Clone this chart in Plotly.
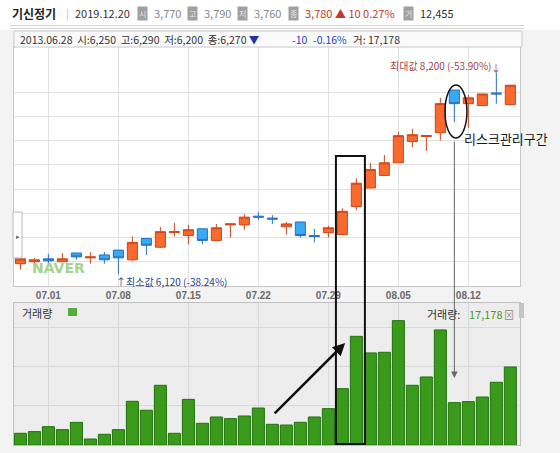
import plotly.graph_objects as go

W, H = 560, 453

# ---------------- data ----------------
dates = ["06.27", "06.28", "07.01", "07.02", "07.03", "07.04", "07.05",
         "07.08", "07.09", "07.10", "07.11", "07.12",
         "07.15", "07.16", "07.17", "07.18", "07.19",
         "07.22", "07.23", "07.24", "07.25", "07.26",
         "07.29", "07.30", "07.31", "08.01", "08.02",
         "08.05", "08.06", "08.07", "08.08", "08.09",
         "08.12", "08.13", "08.14", "08.16"]
opens = [6230, 6250, 6280, 6250, 6340, 6290, 6320,
         6370, 6270, 6490, 6400, 6550,
         6520, 6590, 6470, 6630, 6630,
         6720, 6700, 6610, 6660, 6520,
         6550, 6530, 6820, 7010, 7140,
         7270, 7490, 7540, 7580, 8020,
         7880, 7860, 7990, 7870]
highs = [6310, 6290, 6330, 6340, 6340, 6350, 6350,
         6370, 6510, 6490, 6610, 6650,
         6630, 6590, 6640, 6640, 6740,
         6760, 6730, 6660, 6660, 6590,
         6620, 6800, 7110, 7270, 7350,
         7590, 7620, 7550, 7940, 8020,
         7970, 7980, 8200, 8070]
lows = [6170, 6200, 6220, 6250, 6270, 6230, 6230,
        6120, 6260, 6320, 6390, 6510,
        6430, 6430, 6470, 6500, 6580,
        6680, 6640, 6530, 6500, 6450,
        6500, 6530, 6780, 7010, 7140,
        7270, 7430, 7390, 7500, 7690,
        7630, 7860, 7880, 7870]
closes = [6280, 6270, 6260, 6280, 6300, 6300, 6270,
          6290, 6450, 6420, 6560, 6560,
          6580, 6470, 6600, 6640, 6710,
          6710, 6690, 6640, 6520, 6510,
          6600, 6770, 7060, 7200, 7270,
          7550, 7560, 7550, 7880, 7880,
          7940, 7980, 7980, 8070]
volumes = [15000, 17178, 23500, 19700, 29000, 7700, 13700,
           19700, 56000, 44500, 76500, 15000,
           58500, 27800, 35900, 33800, 37200,
           47400, 26500, 25600, 29100, 35900,
           46600, 72200, 139300, 118000, 118800,
           159400, 76500, 87200, 147500, 54300,
           55600, 61500, 80400, 100000]
tick_dates = ["07.01", "07.08", "07.15", "07.22", "07.29", "08.05", "08.12"]
price_grid = [6250, 6500, 6750, 7000, 7250, 7500, 7750, 8000]
volume_grid = [50000, 100000, 150000]

idx = list(range(len(dates)))
tick_idx = [dates.index(d) for d in tick_dates]
KR = "Noto Sans CJK KR"


def px(x):
    return x / W


def py(y):
    return 1 - y / H


fig = go.Figure()
fig.add_trace(go.Candlestick(
    x=idx, open=opens, high=highs, low=lows, close=closes,
    xaxis="x", yaxis="y",
    increasing=dict(fillcolor="#FA6A2E", line=dict(color="#C9471C", width=1)),
    decreasing=dict(fillcolor="#39A9F4", line=dict(color="#2A6FC4", width=1)),
    whiskerwidth=0, showlegend=False, hoverinfo="skip"))
fig.add_trace(go.Bar(
    x=idx, y=volumes, xaxis="x2", yaxis="y2", width=0.86,
    marker=dict(color="#3A9A1C", line=dict(color="#23700E", width=1)),
    showlegend=False, hoverinfo="skip"))

xdom = [px(14), px(520)]
xr = [-0.457, 35.69]
grid = "#e0e0e0"
fig.update_layout(
    width=W, height=H, margin=dict(l=0, r=0, t=0, b=0),
    boxgap=0.28, boxgroupgap=0,
    paper_bgcolor="#f3f3f3", plot_bgcolor="#ffffff",
    font=dict(family=KR, size=11, color="#333"),
    xaxis=dict(domain=xdom, range=xr, anchor="y", rangeslider=dict(visible=False),
               tickvals=tick_idx, ticktext=["<b>" + t + "</b>" for t in tick_dates], ticks="",
               tickfont=dict(family="Liberation Sans", size=10, color="#6a6a6a"),
               showgrid=True, gridcolor=grid, gridwidth=1,
               showline=True, linecolor="#c8c8c8", mirror=True, zeroline=False),
    yaxis=dict(domain=[py(286), py(47)], range=[6000, 8464], showticklabels=False,
               tickvals=price_grid, showgrid=True, gridcolor=grid, ticks="",
               zeroline=False, showline=True, linecolor="#c8c8c8", mirror=True),
    xaxis2=dict(domain=xdom, range=xr, anchor="y2", matches="x",
                tickvals=tick_idx, showticklabels=False, ticks="",
                showgrid=True, gridcolor="#d8d8d8", showline=True,
                linecolor="#c0c0c0", mirror=True, zeroline=False),
    yaxis2=dict(domain=[py(445), py(303)], range=[0, 182000], showticklabels=False,
                tickvals=volume_grid, showgrid=True, gridcolor="#d8d8d8", ticks="",
                zeroline=False, showline=True, linecolor="#c0c0c0", mirror=True),
)

shapes = []
# panel backgrounds
shapes.append(dict(type="rect", xref="paper", yref="paper", x0=px(14), x1=px(520),
                   y0=py(445), y1=py(303), fillcolor="#ededed", line=dict(width=0), layer="below"))
shapes.append(dict(type="rect", xref="paper", yref="paper", x0=0, x1=1,
                   y0=py(30), y1=1, fillcolor="#ffffff", line=dict(width=0), layer="below"))
# header lines
for yy in (25.5, 28.5):
    shapes.append(dict(type="line", xref="paper", yref="paper", x0=px(10), x1=px(524),
                       y0=py(yy), y1=py(yy), line=dict(color="#d4d4d4", width=1)))
# info box
shapes.append(dict(type="rect", xref="paper", yref="paper", x0=px(14), x1=px(522),
                   y0=py(47), y1=py(31), fillcolor="#fafafa", line=dict(color="#c8c8c8", width=1)))
# left collapse tab
shapes.append(dict(type="rect", xref="paper", yref="paper", x0=px(13), x1=px(22),
                   y0=py(258), y1=py(212), fillcolor="#ffffff", line=dict(color="#b8b8b8", width=1)))
# scrollbar stub
shapes.append(dict(type="rect", xref="paper", yref="paper", x0=px(519), x1=px(524),
                   y0=py(318), y1=py(303), fillcolor="#c4c4c4", line=dict(width=0)))
# annotation box around the breakout candles
shapes.append(dict(type="rect", xref="x", yref="paper", x0=22.54, x1=24.61,
                   y0=py(444), y1=py(156), line=dict(color="#111", width=2)))
# ellipse around risk candle
shapes.append(dict(type="circle", xref="x", yref="paper", x0=30.33, x1=31.9,
                   y0=py(138), y1=py(85), line=dict(color="#111", width=1.5)))
# legend swatch
shapes.append(dict(type="rect", xref="paper", yref="paper", x0=px(68), x1=px(77),
                   y0=py(316), y1=py(308), fillcolor="#55aa40", line=dict(width=0)))
fig.update_layout(shapes=shapes)

ann = []


def txt(x, y, t, size=11, color="#333", anchor="left", bold=False, family=KR, **kw):
    if bold:
        t = "<b>" + t + "</b>"
    ann.append(dict(xref="paper", yref="paper", x=px(x), y=py(y), text=t, showarrow=False,
                    xanchor=anchor, yanchor="middle", font=dict(size=size, color=color, family=family), **kw))


def icon(x, y, ch):
    ann.append(dict(xref="paper", yref="paper", x=px(x), y=py(y), text=ch, showarrow=False,
                    xanchor="center", yanchor="middle", bgcolor="#a0a0a0", borderpad=1,
                    font=dict(size=8, color="#e8e8e8", family=KR)))


# header
txt(10, 13, "기신정기", size=12, color="#222", bold=True)
txt(64, 13, "|", size=11, color="#bbb")
txt(73, 13, "2019.12.20", size=11, color="#333")
icon(142, 13, "시")
txt(152, 13, "3,770", size=11, color="#888")
icon(192, 13, "고")
txt(202, 13, "3,790", size=11, color="#888")
icon(242, 13, "저")
txt(252, 13, "3,760", size=11, color="#888")
icon(293, 13, "종")
txt(303, 13, "3,780 ▲ 10 0.27%", size=11, color="#c0392b")
icon(408, 13, "거")
txt(418, 13, "12,455", size=11, color="#333")

# info row
txt(18, 39, "2013.06.28  시:6,250  고:6,290  저:6,200  종:6,270 <span style='color:#22349a'>▼</span>",
    size=10.5, color="#333")
txt(290, 39, "-10", size=10.5, color="#2a3fbf")
txt(311, 39, "-0.16%", size=10.5, color="#2a3fbf")
txt(351, 39, "거: 17,178", size=10.5, color="#333")

# watermark and tab glyph
txt(30, 268, "NAVER", size=14, color="#a6d18e", bold=True, family="DejaVu Sans")
txt(17.5, 236, "▸", size=7, color="#666", anchor="center")

# volume labels
txt(20, 313, "거래량", size=11, color="#333")
txt(425, 314, "거래량:", size=11, color="#333")
txt(467, 314, "17,178", size=11, color="#4a9a2a")
txt(509, 314, "⊠", size=10, color="#888", anchor="center")

# min / max markers
ann.append(dict(xref="x", yref="y", x=7, y=6120, text="↑최소값 6,120 (-38.24%)", showarrow=False,
                xanchor="left", yanchor="top", xshift=-4, yshift=2,
                font=dict(size=10, color="#2c3e8f", family=KR)))
ann.append(dict(xref="x", yref="y", x=34, y=8200, text="최대값 8,200 (-53.90%)", showarrow=False,
                xanchor="right", yanchor="bottom", xshift=-3, yshift=-2,
                font=dict(size=10, color="#a3454a", family=KR)))
ann.append(dict(xref="x", yref="y", x=34, y=8200, text="↓", showarrow=False,
                xanchor="center", yanchor="bottom", yshift=-4,
                font=dict(size=10, color="#a3454a", family=KR)))
# risk label
ann.append(dict(xref="paper", yref="paper", x=px(506), y=py(138), text="리스크관리구간",
                showarrow=False, xanchor="center", yanchor="middle",
                font=dict(size=13, color="#1a1a1a", family=KR)))
# arrows
ann.append(dict(xref="x2", yref="y2", x=23.2, y=130800, ax=-72, ay=72, text="",
                showarrow=True, arrowhead=2, arrowsize=1, arrowwidth=2.5, arrowcolor="#111"))
ann.append(dict(xref="x2", yref="y2", x=31, y=86000, ax=0, ay=-238, text="",
                showarrow=True, arrowhead=2, arrowsize=1.3, arrowwidth=1, arrowcolor="#666"))
fig.update_layout(annotations=ann)

fig.write_html("out.html", config={"displayModeBar": False},
               post_script="document.body.style.margin='0';document.body.style.overflow='hidden';")
